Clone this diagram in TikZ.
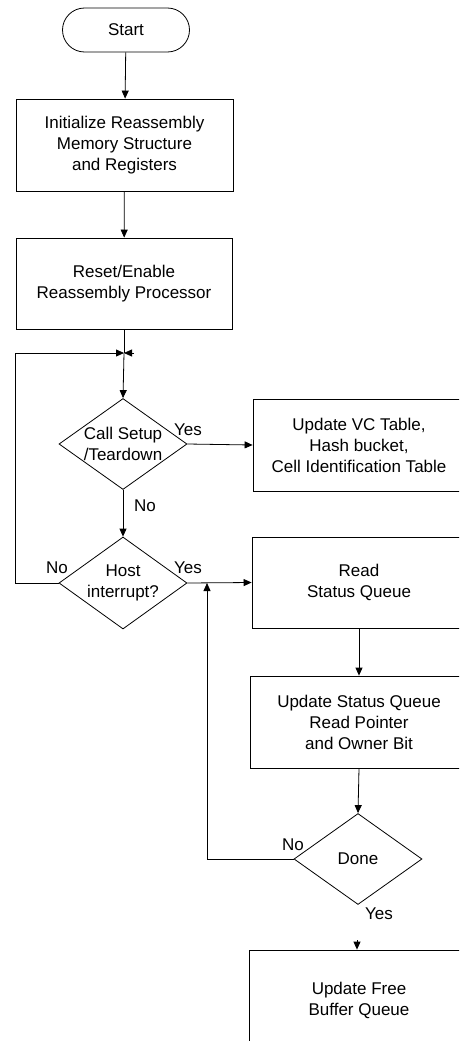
\documentclass[tikz,border=0pt]{standalone}
\usepackage{fontspec}
\setmainfont{Liberation Sans}
\usetikzlibrary{shapes.geometric,arrows.meta}
\begin{document}
\begin{tikzpicture}[x=1pt,y=-1pt,
  every node/.style={font=\fontsize{17}{21}\selectfont, inner sep=0pt},
  box/.style={draw, line width=0.8pt, align=center},
  term/.style={draw, line width=0.8pt, rounded corners=22pt, minimum width=127pt, minimum height=44pt},
  dec/.style={draw, diamond, line width=0.8pt, minimum width=128pt, minimum height=91pt},
  lbl/.style={font=\fontsize{17}{20}\selectfont},
  conn/.style={line width=0.8pt},
  arr/.style={conn, -{Triangle[length=8pt,width=7pt]}}
]
\useasboundingbox (0,0) rectangle (459,1041);
\clip (0,0) rectangle (459,1041);
\fill[white] (0,0) rectangle (459,1041);

\node[term] (start) at (126,30) {Start};
\node[box, minimum width=217pt, minimum height=92pt] (init) at (124.5,145) {Initialize Reassembly\\Memory Structure\\and Registers};
\node[box, minimum width=216pt, minimum height=91pt] (reset) at (124,283.5) {Reset/Enable\\Reassembly Processor};
\coordinate (j) at (124,353);
\coordinate (jr) at (134,353);
\node[dec, label={[align=center]center:Call Setup\\/Teardown}] (d1) at (123,444) {};
\node[dec, minimum height=92pt, label={[align=center]center:Host\\interrupt?}] (d2) at (123,583) {};
\node[box, minimum width=212pt, minimum height=92pt] (vc) at (359,445) {Update VC Table,\\Hash bucket,\\Cell Identification Table};
\node[box, minimum width=214pt, minimum height=91pt] (read) at (359,582.5) {Read\\Status Queue};
\node[box, minimum width=218pt, minimum height=92pt] (ups) at (359,722) {Update Status Queue\\Read Pointer\\and Owner Bit};
\node[dec, label={center:Done}] (done) at (358,859) {};
\node[box, minimum width=220pt, minimum height=100pt] (free) at (359,1000) {Update Free\\Buffer Queue};
\coordinate (fs) at (357,940);
\coordinate (lb) at (15,583);
\coordinate (lt) at (15,353);
\coordinate (nb) at (207,859);
\coordinate (nt) at (207,583);

\draw[arr] (start) -- (init);
\draw[arr] (init) -- (reset);
\draw[conn] (reset.south) -- (j);
\draw[arr] (j) -- (d1.north);
\draw[arr] (d1.east) -- (vc.west);
\draw[arr] (d1.south) -- (d2.north);
\draw[arr] (d2.east) -- (read.west);
\draw[arr] (d2.west) -- (lb) -- (lt) -- (j);
\draw[arr] (jr) -- (j);
\draw[arr] (read.south) -- (ups.north);
\draw[arr] (ups.south) -- (done.north);
\draw[arr] (done.west) -- (nb) -- (nt);
\draw[arr] (fs) -- (free.north -| fs);

\node[lbl] (y1) at (188,430) {Yes};
\node[lbl] (n1) at (145,506) {No};
\node[lbl] (n2) at (57,568) {No};
\node[lbl] (y2) at (188,568) {Yes};
\node[lbl] (n3) at (293,845) {No};
\node[lbl] (y3) at (379,914) {Yes};
\end{tikzpicture}
\end{document}
